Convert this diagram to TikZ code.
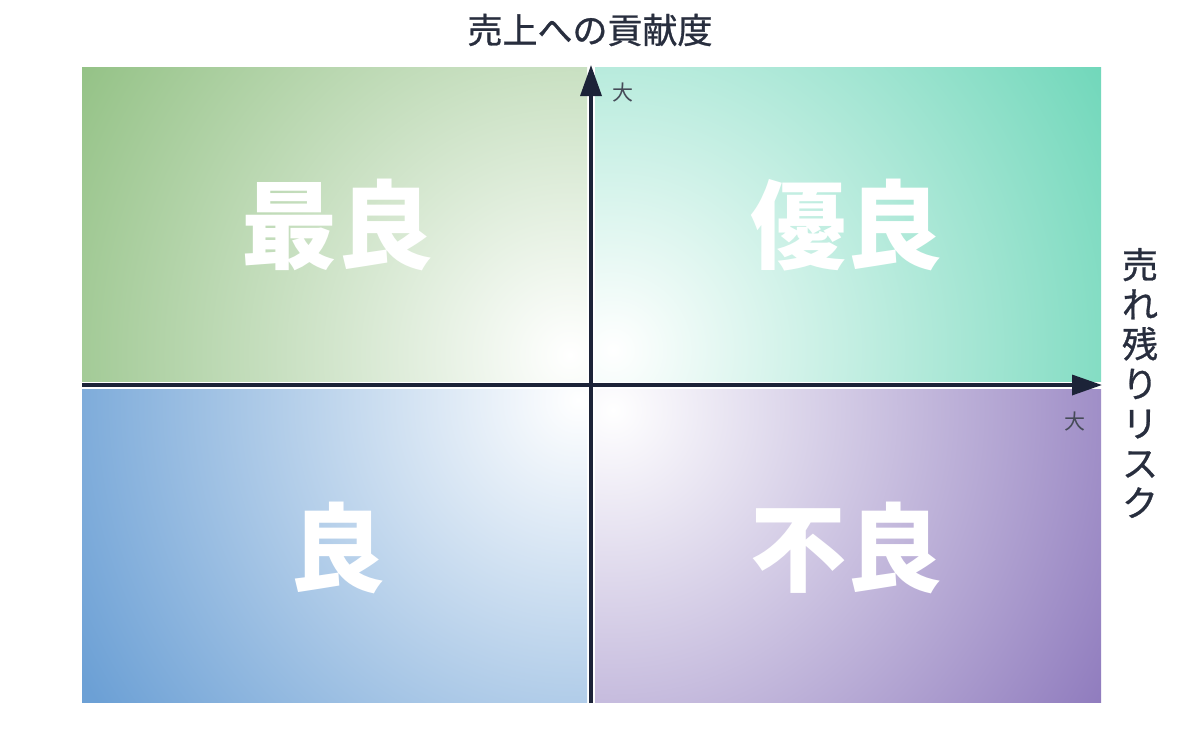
\documentclass[tikz,border=0pt]{standalone}
\usepackage{fontspec}
\newfontfamily\jp{Noto Sans CJK JP}
\newfontfamily\jpm[FakeBold=0.8]{Noto Sans CJK JP}
\usetikzlibrary{arrows.meta}
\definecolor{cTL}{RGB}{148,194,134}
\definecolor{cTR}{RGB}{112,215,186}
\definecolor{cBL}{RGB}{108,160,213}
\definecolor{cBR}{RGB}{144,124,190}
\definecolor{axiscol}{RGB}{28,35,56}
\definecolor{txtcol}{RGB}{40,46,62}
\definecolor{smallcol}{RGB}{70,75,88}
\pgfdeclareradialshading{shTL}{\pgfpoint{0bp}{0bp}}{color(0bp)=(white); color(20bp)=(cTL); color(50bp)=(cTL)}
\pgfdeclareradialshading{shTR}{\pgfpoint{0bp}{0bp}}{color(0bp)=(white); color(20bp)=(cTR); color(50bp)=(cTR)}
\pgfdeclareradialshading{shBL}{\pgfpoint{0bp}{0bp}}{color(0bp)=(white); color(20bp)=(cBL); color(50bp)=(cBL)}
\pgfdeclareradialshading{shBR}{\pgfpoint{0bp}{0bp}}{color(0bp)=(white); color(20bp)=(cBR); color(50bp)=(cBR)}
\tikzset{
  biglabel/.style={text=white, font=\jp\bfseries\fontsize{96}{96}\selectfont, inner sep=0pt},
  smalllabel/.style={text=smallcol, font=\jp\fontsize{21}{21}\selectfont, inner sep=0pt},
  axislabel/.style={text=txtcol, font=\jpm\fontsize{35}{35}\selectfont, inner sep=0pt},
  axisline/.style={draw=axiscol, line width=3.5pt},
}
\begin{document}
\begin{tikzpicture}[x=1pt, y=-1pt]
\useasboundingbox (0,0) rectangle (1200,729);
\fill[white] (0,0) rectangle (1200,729);
% quadrants
\begin{scope}
  \clip (82,67) rectangle (587,381);
  \shade[shading=shTL] (570,355) circle (710);
\end{scope}
\begin{scope}
  \clip (595,67) rectangle (1101,381);
  \shade[shading=shTR] (613,350) circle (710);
\end{scope}
\begin{scope}
  \clip (82,389) rectangle (587,702);
  \shade[shading=shBL] (578,400) circle (710);
\end{scope}
\begin{scope}
  \clip (595,389) rectangle (1101,702);
  \shade[shading=shBR] (613,410) circle (710);
\end{scope}
% labels
\node[biglabel] (best) at (337,225) {最良};
\node[biglabel] (excellent) at (846,225) {優良};
\node[biglabel] (good) at (337,548) {良};
\node[biglabel] (bad) at (846,548) {不良};
% axes
\coordinate (ybot) at (591,703);
\coordinate (ytop) at (591,65);
\coordinate (xleft) at (82,385);
\coordinate (xright) at (1102,385);
\draw[axisline, -{Triangle[length=30pt, width=20pt]}] (xleft) -- (xright);
\draw[axisline, -{Triangle[length=31pt, width=21pt]}] (ybot) -- (ytop);
\node[smalllabel] (ybig) at (623,93) {大};
\node[smalllabel] (xbig) at (1075,422) {大};
\node[axislabel] (ytitle) at (590,30) {売上への貢献度};
\node[axislabel, align=center, font=\jpm\fontsize{36}{39.7}\selectfont] (xtitle) at (1140,383) {売\\れ\\残\\り\\リ\\ス\\ク};
\end{tikzpicture}
\end{document}
